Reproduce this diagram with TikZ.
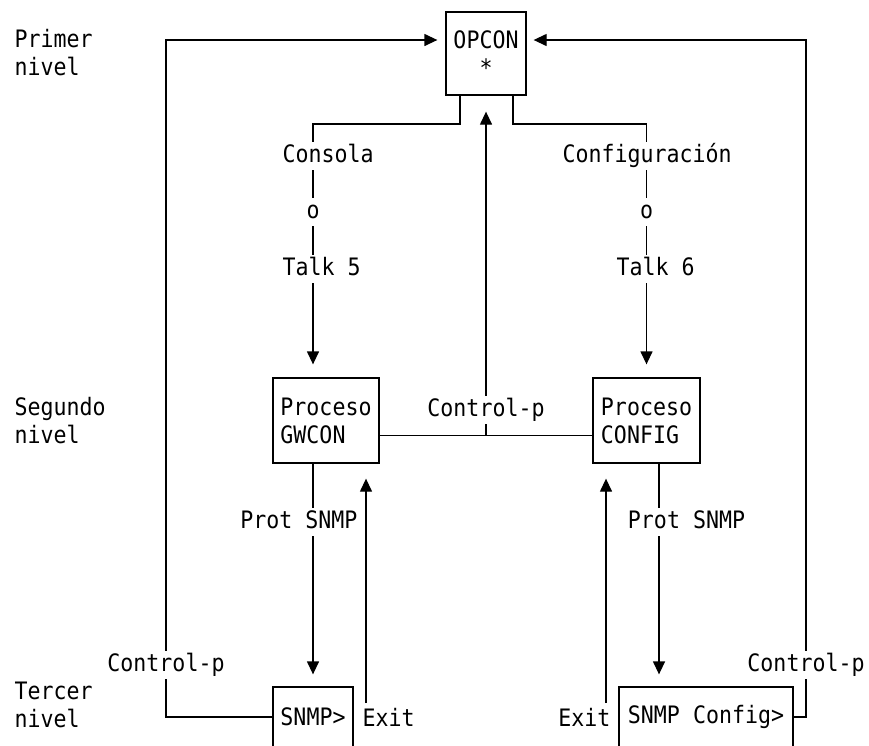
\documentclass[tikz,border=0pt]{standalone}
\usepackage{fontspec}
\setmainfont{DejaVu Sans Mono}[FakeStretch=0.9]
\usetikzlibrary{arrows.meta}

\begin{document}
\begin{tikzpicture}[x=1pt, y=-1pt, line width=1.3pt,
  every node/.style = {font=\fontsize{24}{28}\selectfont, inner sep=0pt},
  box/.style = {draw, align=left},
  tag/.style = {fill=white, text height=17pt, text depth=5pt,
    inner xsep=1pt, inner ysep=3pt},
  lvl/.style = {align=left, anchor=west},
  arr/.style = {-{Triangle[length=13pt, width=12pt]}}]
  \clip (0,0) rectangle (869,745);
  \node[box, align=center, minimum width=80pt, minimum height=83pt] (opcon) at (486,53.5) {OPCON\\*};
  \node[box, minimum width=106pt, minimum height=85pt] (gwcon) at (326,420.5) {Proceso\\GWCON};
  \node[box, minimum width=107pt, minimum height=85pt] (config) at (646.5,420.5) {Proceso\\CONFIG};
  \node[box, minimum width=80pt, minimum height=60pt] (snmp) at (313,717) {SNMP>};
  \node[box, minimum width=174pt, minimum height=60pt] (sncfg) at (706,717) {SNMP Config>};
  \coordinate (cpmid) at (486,435.5);
  \coordinate (exitl) at (366,703);
  \coordinate (exitr) at (606,703);

  \draw[arr] ([xshift=-26pt]opcon.south) |- (313,124) -- ([xshift=-13pt, yshift=13pt]gwcon.north);
  \draw[arr] ([xshift=27pt]opcon.south) |- (646.5,124) -- ([yshift=13pt]config.north);
  \draw ([yshift=-15pt]gwcon.east) -- ([yshift=-15pt]config.west);
  \draw[arr] (cpmid) -- ([yshift=-16pt]opcon.south);
  \draw[arr] ([xshift=-13pt]gwcon.south) -- ([yshift=12pt]snmp.north);
  \draw[arr] ([xshift=12.5pt]config.south) -- ([xshift=-47pt, yshift=12pt]sncfg.north);
  \draw[arr] (exitl) -- ([xshift=40pt, yshift=-15pt]gwcon.south);
  \draw[arr] (exitr) -- ([xshift=-40.5pt, yshift=-15pt]config.south);
  \draw[arr] (snmp.west) -| (166,40) -- ([xshift=-8pt, yshift=13.5pt]opcon.west);
  \draw[arr] (sncfg.east) -| (806,40) -- ([xshift=7pt, yshift=13.5pt]opcon.east);

  \node[tag, anchor=west] (consola) at (281,156) {Consola};
  \node[tag] (o1) at (313,212) {o};
  \node[tag, anchor=west] (talk5) at (281,269) {Talk 5};
  \node[tag, anchor=west] (configlbl) at (561,156) {Configuración};
  \node[tag] (o2) at (646.5,212) {o};
  \node[tag, anchor=west] (talk6) at (615,269) {Talk 6};
  \node[tag] (ctrlmid) at (486,410) {Control-p};
  \node[tag, anchor=east] (protl) at (359,522) {Prot SNMP};
  \node[tag] (protr) at (686.5,522) {Prot SNMP};
  \node[tag] (ctrll) at (166,665) {Control-p};
  \node[tag] (ctrlr) at (806,665) {Control-p};
  \node[anchor=west] (exitllbl) at (362,717) {Exit};
  \node[anchor=east] (exitrlbl) at (611,717) {Exit};

  \node[lvl] (nivel1) at (14,53) {Primer\\nivel};
  \node[lvl] (nivel2) at (14,421) {Segundo\\nivel};
  \node[lvl] (nivel3) at (14,705) {Tercer\\nivel};
\end{tikzpicture}
\end{document}
